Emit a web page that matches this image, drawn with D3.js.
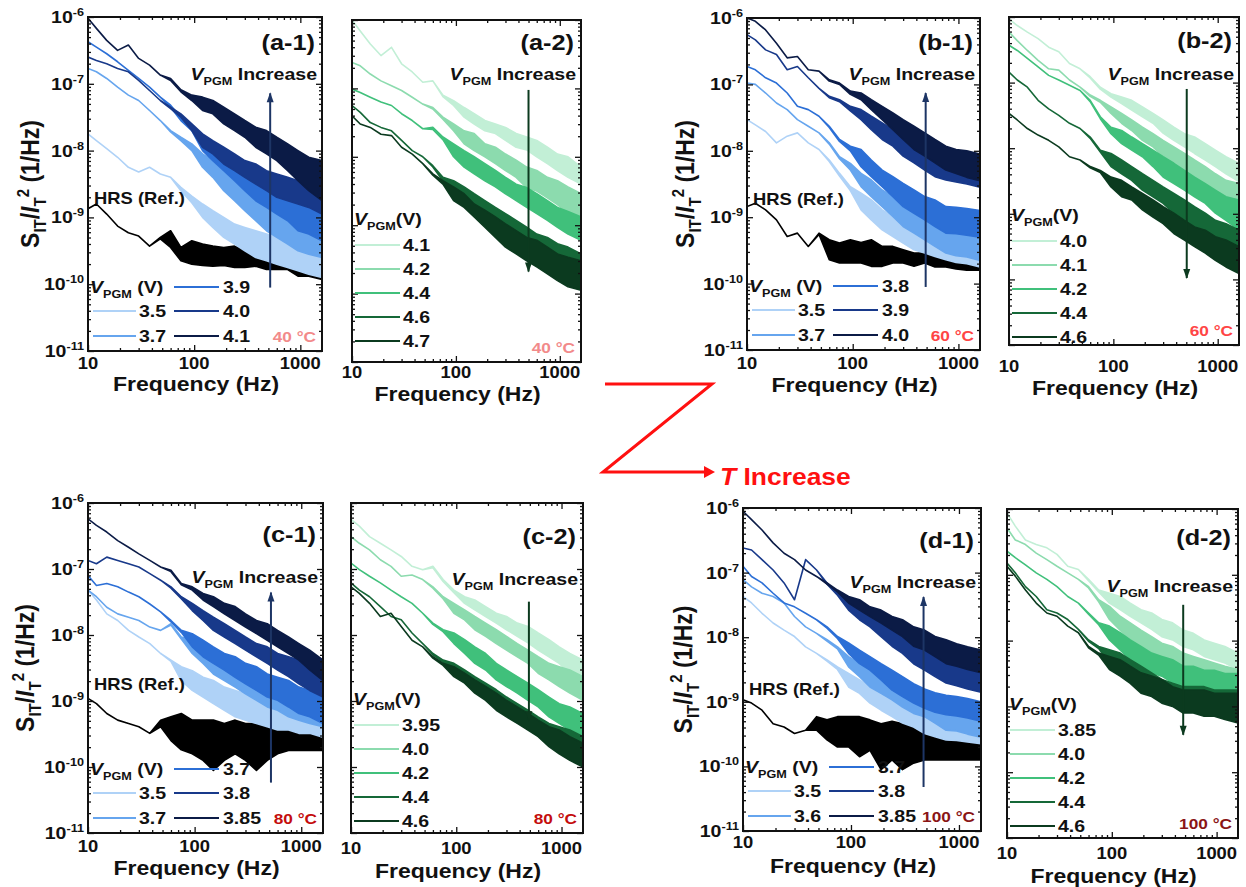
<!DOCTYPE html>
<html>
<head>
<meta charset="utf-8">
<script src="https://cdn.jsdelivr.net/npm/d3@7"></script>
<style>
  body { margin: 0; background: #fff; }
  svg { display: block; }
  text { font-family: "Liberation Sans", Arial, sans-serif; font-weight: bold; fill: #111; }
</style>
</head>
<body>
<svg id="fig" width="1246" height="887"></svg>
<script>
// frequency grid (Hz) shared by every trace
const freqHz = [10, 12, 15, 19, 24, 30, 38, 48, 60, 75, 95, 120, 150, 190, 240, 300, 380, 480, 600, 760, 950, 1200, 1600];

// log10(S_IT/I_T^2): upper and lower edge of each trace (equal where the trace is a thin line)
// rows of the -1 panels: 5 programmed states then HRS (Ref.)
const a1Volt = ['3.5', '3.7', '3.9', '4.0', '4.1'];
const a1Top = [
  [-7.75,-7.85,-7.97,-8.1,-8.25,-8.32,-8.25,-8.35,-8.4,-8.55,-8.68,-8.8,-8.9,-9.0,-9.1,-9.15,-9.2,-9.25,-9.3,-9.35,-9.4,-9.45,-9.5],
  [-6.77,-6.82,-6.92,-7.05,-7.17,-7.25,-7.4,-7.55,-7.7,-7.8,-7.9,-8.05,-8.15,-8.3,-8.45,-8.55,-8.7,-8.8,-8.9,-9.0,-9.05,-9.1,-9.15],
  [-6.37,-6.45,-6.55,-6.67,-6.8,-6.92,-7.05,-7.2,-7.32,-7.5,-7.62,-7.8,-7.9,-8.05,-8.15,-8.25,-8.35,-8.45,-8.55,-8.65,-8.75,-8.8,-8.85],
  [-6.6,-6.65,-6.7,-6.77,-6.82,-6.95,-7.1,-7.25,-7.35,-7.45,-7.6,-7.75,-7.85,-7.95,-8.05,-8.15,-8.2,-8.3,-8.35,-8.4,-8.45,-8.45,-8.5],
  [-6.02,-6.17,-6.35,-6.5,-6.42,-6.62,-6.72,-6.87,-6.92,-7.09,-7.17,-7.2,-7.25,-7.35,-7.45,-7.55,-7.65,-7.7,-7.8,-7.9,-8.0,-8.1,-8.15],
  [-8.87,-8.8,-8.95,-9.13,-9.23,-9.28,-9.43,-9.3,-9.2,-9.45,-9.35,-9.4,-9.43,-9.45,-9.43,-9.5,-9.58,-9.6,-9.63,-9.63,-9.65,-9.68,-9.73]
];
const a1Bot = [
  [-7.75,-7.85,-7.97,-8.1,-8.25,-8.32,-8.25,-8.35,-8.4,-8.6,-8.78,-9.0,-9.15,-9.3,-9.4,-9.5,-9.6,-9.65,-9.7,-9.75,-9.8,-9.85,-9.9],
  [-6.77,-6.82,-6.92,-7.05,-7.17,-7.25,-7.4,-7.55,-7.72,-7.85,-8.0,-8.25,-8.4,-8.6,-8.75,-8.9,-9.05,-9.2,-9.3,-9.4,-9.5,-9.55,-9.6],
  [-6.37,-6.45,-6.55,-6.67,-6.8,-6.92,-7.05,-7.2,-7.35,-7.55,-7.7,-8.0,-8.15,-8.3,-8.45,-8.6,-8.75,-8.85,-8.95,-9.05,-9.2,-9.25,-9.35],
  [-6.6,-6.65,-6.7,-6.77,-6.82,-6.95,-7.1,-7.25,-7.37,-7.5,-7.7,-7.95,-8.05,-8.2,-8.3,-8.4,-8.5,-8.6,-8.7,-8.75,-8.8,-8.85,-8.95],
  [-6.02,-6.17,-6.35,-6.5,-6.42,-6.62,-6.72,-6.87,-6.95,-7.12,-7.25,-7.4,-7.45,-7.6,-7.7,-7.8,-7.95,-8.05,-8.15,-8.3,-8.45,-8.6,-8.75],
  [-8.87,-8.8,-8.95,-9.13,-9.23,-9.28,-9.43,-9.32,-9.45,-9.65,-9.7,-9.72,-9.73,-9.72,-9.75,-9.75,-9.73,-9.78,-9.78,-9.78,-9.88,-9.88,-9.93]
];

const a2Volt = ['4.1', '4.2', '4.4', '4.6', '4.7'];
const a2Top = [
  [-6.0,-6.16,-6.35,-6.52,-6.4,-6.64,-6.76,-6.91,-6.89,-7.1,-7.18,-7.28,-7.37,-7.47,-7.52,-7.57,-7.66,-7.71,-7.76,-7.86,-7.96,-8.0,-8.15],
  [-6.62,-6.67,-6.79,-6.89,-6.96,-7.03,-7.13,-7.23,-7.28,-7.42,-7.52,-7.62,-7.66,-7.81,-7.86,-7.96,-8.05,-8.15,-8.2,-8.3,-8.35,-8.44,-8.54],
  [-7.01,-7.06,-7.13,-7.2,-7.25,-7.37,-7.47,-7.59,-7.57,-7.71,-7.81,-7.91,-8.0,-8.1,-8.2,-8.3,-8.4,-8.45,-8.54,-8.64,-8.74,-8.8,-8.88],
  [-7.25,-7.35,-7.5,-7.57,-7.62,-7.76,-7.91,-8.0,-8.13,-8.3,-8.35,-8.44,-8.54,-8.64,-8.74,-8.83,-8.93,-9.03,-9.13,-9.18,-9.27,-9.32,-9.42],
  [-7.4,-7.52,-7.57,-7.67,-7.69,-7.86,-7.96,-8.1,-8.25,-8.35,-8.44,-8.54,-8.69,-8.78,-8.88,-8.98,-9.08,-9.18,-9.22,-9.32,-9.42,-9.47,-9.52]
];
const a2Bot = [
  [-6.0,-6.16,-6.35,-6.52,-6.4,-6.64,-6.76,-6.91,-6.89,-7.12,-7.25,-7.42,-7.52,-7.62,-7.66,-7.76,-7.86,-7.9,-8.0,-8.1,-8.2,-8.3,-8.4],
  [-6.62,-6.67,-6.79,-6.89,-6.96,-7.03,-7.13,-7.23,-7.3,-7.45,-7.62,-7.81,-7.91,-8.0,-8.1,-8.2,-8.3,-8.45,-8.5,-8.6,-8.7,-8.83,-8.93],
  [-7.01,-7.06,-7.13,-7.2,-7.25,-7.37,-7.47,-7.59,-7.6,-7.75,-8.0,-8.15,-8.25,-8.35,-8.44,-8.54,-8.64,-8.74,-8.83,-8.93,-9.03,-9.13,-9.22],
  [-7.25,-7.35,-7.5,-7.57,-7.62,-7.76,-7.91,-8.0,-8.15,-8.35,-8.54,-8.64,-8.74,-8.93,-9.03,-9.13,-9.22,-9.32,-9.42,-9.57,-9.66,-9.76,-9.86],
  [-7.4,-7.52,-7.57,-7.67,-7.69,-7.86,-7.96,-8.1,-8.27,-8.4,-8.64,-8.74,-8.88,-9.03,-9.18,-9.32,-9.42,-9.52,-9.61,-9.71,-9.81,-9.9,-9.95]
];

const b1Volt = ['3.5', '3.7', '3.8', '3.9', '4.0'];
const b1Top = [
  [-7.53,-7.61,-7.71,-7.88,-7.78,-7.73,-7.88,-7.98,-8.14,-8.34,-8.54,-8.64,-8.74,-8.89,-8.99,-9.09,-9.14,-9.19,-9.24,-9.29,-9.3,-9.32,-9.35],
  [-6.98,-7.0,-7.13,-7.28,-7.38,-7.53,-7.63,-7.73,-7.88,-8.09,-8.19,-8.34,-8.44,-8.59,-8.69,-8.84,-8.94,-9.04,-9.09,-9.19,-9.2,-9.22,-9.25],
  [-6.73,-6.78,-6.9,-6.98,-7.13,-7.33,-7.38,-7.48,-7.63,-7.83,-7.93,-7.98,-8.14,-8.29,-8.39,-8.49,-8.59,-8.69,-8.74,-8.84,-8.85,-8.87,-8.9],
  [-6.25,-6.33,-6.48,-6.55,-6.78,-6.73,-6.9,-7.06,-7.18,-7.23,-7.33,-7.38,-7.48,-7.58,-7.68,-7.78,-7.88,-7.93,-8.03,-8.09,-8.12,-8.15,-8.2],
  [-6.0,-6.05,-6.18,-6.38,-6.6,-6.58,-6.78,-6.8,-6.93,-6.98,-7.1,-7.13,-7.23,-7.33,-7.43,-7.53,-7.63,-7.73,-7.83,-7.93,-7.98,-8.0,-8.05],
  [-8.84,-8.79,-8.89,-9.04,-9.29,-9.24,-9.44,-9.24,-9.34,-9.39,-9.34,-9.38,-9.34,-9.44,-9.44,-9.49,-9.54,-9.54,-9.55,-9.55,-9.55,-9.55,-9.6]
];
const b1Bot = [
  [-7.53,-7.61,-7.71,-7.88,-7.78,-7.73,-7.88,-7.98,-8.16,-8.38,-8.6,-8.89,-9.04,-9.19,-9.29,-9.39,-9.49,-9.54,-9.59,-9.64,-9.68,-9.7,-9.75],
  [-6.98,-7.0,-7.13,-7.28,-7.38,-7.53,-7.63,-7.73,-7.9,-8.12,-8.29,-8.54,-8.69,-8.84,-8.99,-9.14,-9.24,-9.34,-9.44,-9.54,-9.58,-9.6,-9.65],
  [-6.73,-6.78,-6.9,-6.98,-7.13,-7.33,-7.38,-7.48,-7.65,-7.86,-8.0,-8.24,-8.39,-8.54,-8.69,-8.84,-8.94,-9.04,-9.14,-9.24,-9.25,-9.27,-9.3],
  [-6.25,-6.33,-6.48,-6.55,-6.78,-6.73,-6.9,-7.06,-7.2,-7.26,-7.4,-7.53,-7.68,-7.83,-7.93,-8.08,-8.18,-8.29,-8.39,-8.44,-8.47,-8.5,-8.55],
  [-6.0,-6.05,-6.18,-6.38,-6.6,-6.58,-6.78,-6.8,-6.95,-7.0,-7.15,-7.23,-7.38,-7.53,-7.68,-7.83,-7.98,-8.08,-8.18,-8.29,-8.34,-8.4,-8.45],
  [-8.84,-8.79,-8.89,-9.04,-9.29,-9.24,-9.44,-9.26,-9.64,-9.69,-9.69,-9.69,-9.74,-9.74,-9.69,-9.69,-9.74,-9.69,-9.75,-9.75,-9.78,-9.8,-9.8]
];

const b2Volt = ['4.0', '4.1', '4.2', '4.4', '4.6'];
const b2Top = [
  [-6.03,-6.13,-6.23,-6.33,-6.46,-6.53,-6.71,-6.79,-6.91,-7.07,-7.17,-7.22,-7.27,-7.37,-7.47,-7.57,-7.68,-7.78,-7.83,-7.93,-8.03,-8.13,-8.23],
  [-6.23,-6.36,-6.51,-6.66,-6.79,-6.81,-6.96,-7.07,-7.19,-7.27,-7.37,-7.47,-7.57,-7.68,-7.78,-7.88,-7.98,-8.08,-8.18,-8.28,-8.39,-8.49,-8.54],
  [-6.43,-6.51,-6.63,-6.76,-6.89,-6.96,-7.04,-7.12,-7.27,-7.52,-7.68,-7.73,-7.83,-7.93,-8.03,-8.13,-8.23,-8.34,-8.44,-8.54,-8.64,-8.74,-8.79],
  [-6.84,-6.96,-7.07,-7.27,-7.4,-7.5,-7.62,-7.7,-7.83,-8.03,-8.08,-8.18,-8.28,-8.39,-8.49,-8.59,-8.69,-8.79,-8.89,-8.99,-9.1,-9.15,-9.25],
  [-7.47,-7.57,-7.7,-7.8,-7.88,-7.98,-8.13,-8.18,-8.28,-8.34,-8.44,-8.49,-8.59,-8.69,-8.79,-8.89,-8.99,-9.1,-9.2,-9.25,-9.35,-9.4,-9.5]
];
const b2Bot = [
  [-6.03,-6.13,-6.23,-6.33,-6.46,-6.53,-6.71,-6.79,-6.93,-7.1,-7.22,-7.32,-7.42,-7.52,-7.62,-7.77,-7.88,-7.98,-8.08,-8.18,-8.28,-8.39,-8.51],
  [-6.23,-6.36,-6.51,-6.66,-6.79,-6.81,-6.96,-7.07,-7.21,-7.3,-7.47,-7.62,-7.73,-7.88,-7.98,-8.13,-8.23,-8.34,-8.44,-8.59,-8.69,-8.79,-8.89],
  [-6.43,-6.51,-6.63,-6.76,-6.89,-6.96,-7.04,-7.12,-7.29,-7.55,-7.78,-7.93,-8.03,-8.13,-8.28,-8.44,-8.54,-8.64,-8.74,-8.84,-8.99,-9.1,-9.25],
  [-6.84,-6.96,-7.07,-7.27,-7.4,-7.5,-7.62,-7.7,-7.85,-8.06,-8.28,-8.39,-8.49,-8.64,-8.74,-8.84,-8.99,-9.1,-9.25,-9.35,-9.45,-9.6,-9.76],
  [-7.47,-7.57,-7.7,-7.8,-7.88,-7.98,-8.13,-8.18,-8.3,-8.37,-8.59,-8.74,-8.79,-8.94,-9.05,-9.15,-9.3,-9.4,-9.5,-9.6,-9.71,-9.81,-9.91]
];

const c1Volt = ['3.5', '3.7', '3.7', '3.8', '3.85'];
const c1Top = [
  [-7.32,-7.47,-7.68,-7.78,-7.93,-8.03,-8.13,-8.28,-8.38,-8.48,-8.54,-8.64,-8.69,-8.79,-8.84,-8.89,-8.94,-8.99,-9.04,-9.09,-9.09,-9.14,-9.19],
  [-7.32,-7.42,-7.58,-7.68,-7.73,-7.78,-7.88,-7.93,-7.83,-8.03,-8.08,-8.18,-8.28,-8.38,-8.48,-8.59,-8.64,-8.69,-8.79,-8.84,-8.89,-8.94,-8.99],
  [-7.1,-7.25,-7.22,-7.27,-7.35,-7.42,-7.53,-7.65,-7.78,-7.93,-7.98,-8.08,-8.18,-8.28,-8.33,-8.43,-8.48,-8.59,-8.64,-8.69,-8.79,-8.84,-8.89],
  [-6.87,-6.92,-6.82,-6.87,-6.92,-6.97,-7.07,-7.17,-7.27,-7.42,-7.52,-7.63,-7.73,-7.83,-7.93,-8.03,-8.13,-8.18,-8.28,-8.33,-8.38,-8.48,-8.59],
  [-6.24,-6.34,-6.44,-6.57,-6.67,-6.77,-6.87,-6.97,-7.02,-7.22,-7.27,-7.37,-7.42,-7.52,-7.57,-7.68,-7.78,-7.83,-7.93,-8.03,-8.13,-8.23,-8.38],
  [-8.96,-9.04,-9.19,-9.29,-9.34,-9.39,-9.49,-9.29,-9.24,-9.19,-9.29,-9.29,-9.29,-9.34,-9.29,-9.34,-9.34,-9.39,-9.34,-9.39,-9.39,-9.44,-9.44]
];
const c1Bot = [
  [-7.32,-7.47,-7.68,-7.78,-7.93,-8.03,-8.13,-8.28,-8.4,-8.69,-8.84,-8.94,-9.04,-9.14,-9.24,-9.29,-9.34,-9.39,-9.44,-9.44,-9.49,-9.49,-9.55],
  [-7.32,-7.42,-7.58,-7.68,-7.73,-7.78,-7.88,-7.93,-7.85,-8.06,-8.28,-8.43,-8.59,-8.69,-8.79,-8.89,-8.99,-9.09,-9.14,-9.24,-9.29,-9.34,-9.39],
  [-7.1,-7.25,-7.22,-7.27,-7.35,-7.42,-7.53,-7.65,-7.8,-7.96,-8.18,-8.33,-8.43,-8.53,-8.64,-8.74,-8.84,-8.94,-8.99,-9.09,-9.19,-9.24,-9.34],
  [-6.87,-6.92,-6.82,-6.87,-6.92,-6.97,-7.07,-7.17,-7.29,-7.45,-7.63,-7.78,-7.93,-8.03,-8.13,-8.23,-8.33,-8.43,-8.53,-8.63,-8.74,-8.84,-8.94],
  [-6.24,-6.34,-6.44,-6.57,-6.67,-6.77,-6.87,-6.97,-7.04,-7.24,-7.32,-7.47,-7.57,-7.68,-7.78,-7.88,-7.98,-8.08,-8.18,-8.28,-8.38,-8.53,-8.69],
  [-8.96,-9.04,-9.19,-9.29,-9.34,-9.39,-9.49,-9.39,-9.6,-9.74,-9.8,-9.9,-10.05,-9.9,-9.8,-9.9,-10.05,-9.9,-9.8,-9.75,-9.75,-9.75,-9.75]
];

const c2Volt = ['3.95', '4.0', '4.2', '4.4', '4.6'];
const c2Top = [
  [-6.25,-6.35,-6.51,-6.61,-6.71,-6.81,-6.96,-7.01,-6.96,-7.16,-7.32,-7.42,-7.47,-7.57,-7.67,-7.72,-7.82,-7.87,-7.97,-8.07,-8.18,-8.28,-8.38],
  [-6.51,-6.61,-6.71,-6.86,-6.96,-7.11,-7.09,-7.16,-7.27,-7.42,-7.52,-7.62,-7.72,-7.82,-7.92,-8.02,-8.13,-8.23,-8.33,-8.43,-8.48,-8.53,-8.63],
  [-6.91,-7.01,-7.11,-7.21,-7.32,-7.42,-7.52,-7.67,-7.82,-7.92,-7.97,-8.07,-8.18,-8.28,-8.43,-8.53,-8.63,-8.73,-8.83,-8.94,-9.04,-9.09,-9.19],
  [-7.21,-7.32,-7.42,-7.57,-7.72,-7.77,-7.97,-8.13,-8.28,-8.38,-8.43,-8.53,-8.63,-8.73,-8.83,-8.94,-9.04,-9.14,-9.24,-9.34,-9.39,-9.44,-9.54],
  [-7.27,-7.37,-7.52,-7.72,-7.67,-7.87,-8.08,-8.18,-8.33,-8.43,-8.48,-8.58,-8.68,-8.78,-8.88,-8.99,-9.09,-9.19,-9.29,-9.39,-9.44,-9.54,-9.64]
];
const c2Bot = [
  [-6.25,-6.35,-6.51,-6.61,-6.71,-6.81,-6.96,-7.01,-6.98,-7.19,-7.36,-7.52,-7.62,-7.72,-7.82,-7.92,-8.02,-8.12,-8.23,-8.33,-8.43,-8.58,-8.68],
  [-6.51,-6.61,-6.71,-6.86,-6.96,-7.11,-7.09,-7.16,-7.29,-7.45,-7.67,-7.77,-7.92,-8.02,-8.13,-8.23,-8.33,-8.43,-8.58,-8.68,-8.78,-8.88,-8.99],
  [-6.91,-7.01,-7.11,-7.21,-7.32,-7.42,-7.52,-7.67,-7.84,-7.95,-8.13,-8.28,-8.43,-8.53,-8.68,-8.78,-8.88,-8.99,-9.09,-9.24,-9.34,-9.44,-9.54],
  [-7.21,-7.32,-7.42,-7.57,-7.72,-7.77,-7.97,-8.13,-8.3,-8.41,-8.58,-8.68,-8.83,-8.94,-9.09,-9.19,-9.29,-9.39,-9.49,-9.59,-9.69,-9.8,-9.95],
  [-7.27,-7.37,-7.52,-7.72,-7.67,-7.87,-8.08,-8.18,-8.35,-8.46,-8.63,-8.73,-8.88,-8.99,-9.14,-9.24,-9.34,-9.44,-9.54,-9.69,-9.8,-9.9,-10.0]
];

const d1Volt = ['3.5', '3.6', '3.7', '3.8', '3.85'];
const d1Top = [
  [-7.37,-7.47,-7.63,-7.78,-7.89,-7.99,-8.15,-8.25,-8.35,-8.46,-8.56,-8.66,-8.77,-8.87,-8.97,-9.02,-9.08,-9.13,-9.18,-9.23,-9.25,-9.27,-9.3],
  [-7.11,-7.22,-7.32,-7.37,-7.47,-7.68,-7.84,-7.94,-8.04,-8.15,-8.3,-8.41,-8.51,-8.61,-8.72,-8.77,-8.87,-8.92,-8.97,-9.08,-9.1,-9.12,-9.15],
  [-6.9,-7.06,-7.16,-7.32,-7.47,-7.53,-7.63,-7.73,-7.84,-7.99,-8.09,-8.2,-8.3,-8.41,-8.51,-8.61,-8.72,-8.8,-8.86,-8.9,-8.92,-8.95,-9.0],
  [-6.62,-6.65,-6.8,-6.96,-7.16,-7.42,-6.8,-6.96,-7.16,-7.32,-7.42,-7.53,-7.63,-7.73,-7.84,-7.94,-8.04,-8.15,-8.25,-8.35,-8.4,-8.45,-8.5],
  [-6.05,-6.18,-6.34,-6.54,-6.7,-6.8,-6.96,-7.06,-7.16,-7.27,-7.37,-7.42,-7.53,-7.58,-7.68,-7.73,-7.84,-7.89,-7.99,-8.04,-8.1,-8.15,-8.2],
  [-8.97,-9.02,-9.13,-9.34,-9.39,-9.49,-9.44,-9.23,-9.28,-9.23,-9.23,-9.23,-9.28,-9.34,-9.3,-9.34,-9.39,-9.4,-9.44,-9.49,-9.55,-9.6,-9.6]
];
const d1Bot = [
  [-7.37,-7.47,-7.63,-7.78,-7.89,-7.99,-8.15,-8.25,-8.37,-8.5,-8.77,-8.87,-9.02,-9.13,-9.23,-9.33,-9.39,-9.49,-9.54,-9.59,-9.6,-9.62,-9.65],
  [-7.11,-7.22,-7.32,-7.37,-7.47,-7.68,-7.84,-7.94,-8.06,-8.18,-8.46,-8.61,-8.77,-8.87,-8.97,-9.08,-9.18,-9.23,-9.33,-9.44,-9.45,-9.5,-9.55],
  [-6.9,-7.06,-7.16,-7.32,-7.47,-7.53,-7.63,-7.73,-7.86,-8.02,-8.25,-8.41,-8.51,-8.66,-8.82,-8.92,-9.02,-9.1,-9.16,-9.2,-9.22,-9.25,-9.3],
  [-6.62,-6.65,-6.8,-6.96,-7.16,-7.42,-6.8,-6.96,-7.18,-7.35,-7.58,-7.73,-7.84,-7.99,-8.14,-8.25,-8.41,-8.51,-8.61,-8.71,-8.75,-8.8,-8.85],
  [-6.05,-6.18,-6.34,-6.54,-6.7,-6.8,-6.96,-7.06,-7.18,-7.3,-7.47,-7.58,-7.68,-7.78,-7.89,-7.99,-8.14,-8.2,-8.3,-8.41,-8.45,-8.5,-8.55],
  [-8.97,-9.02,-9.13,-9.34,-9.39,-9.49,-9.44,-9.44,-9.59,-9.7,-9.7,-9.85,-9.75,-10.05,-9.9,-10.05,-9.95,-9.9,-9.9,-9.9,-9.9,-9.9,-9.9]
];

const d2Volt = ['3.85', '4.0', '4.2', '4.4', '4.6'];
const d2Top = [
  [-6.06,-6.26,-6.47,-6.54,-6.59,-6.69,-6.87,-6.92,-7.07,-7.23,-7.28,-7.33,-7.43,-7.53,-7.58,-7.68,-7.73,-7.84,-7.89,-7.99,-8.04,-8.09,-8.19],
  [-6.29,-6.47,-6.54,-6.67,-6.77,-6.87,-6.97,-7.07,-7.18,-7.38,-7.48,-7.63,-7.73,-7.84,-7.94,-8.04,-8.09,-8.19,-8.24,-8.29,-8.34,-8.39,-8.44],
  [-6.64,-6.74,-6.85,-6.97,-7.07,-7.18,-7.33,-7.43,-7.58,-7.73,-7.78,-7.88,-7.99,-8.09,-8.19,-8.24,-8.29,-8.39,-8.39,-8.45,-8.45,-8.5,-8.5],
  [-6.82,-6.97,-7.18,-7.33,-7.53,-7.58,-7.68,-7.83,-7.99,-8.09,-8.14,-8.19,-8.29,-8.39,-8.49,-8.59,-8.65,-8.7,-8.7,-8.7,-8.75,-8.75,-8.75],
  [-6.87,-7.02,-7.23,-7.43,-7.58,-7.63,-7.78,-7.88,-8.09,-8.19,-8.24,-8.29,-8.39,-8.49,-8.54,-8.59,-8.7,-8.75,-8.75,-8.75,-8.8,-8.8,-8.8]
];
const d2Bot = [
  [-6.06,-6.26,-6.47,-6.54,-6.59,-6.69,-6.87,-6.92,-7.09,-7.26,-7.43,-7.53,-7.63,-7.73,-7.83,-7.94,-7.99,-8.09,-8.14,-8.24,-8.29,-8.34,-8.44],
  [-6.29,-6.47,-6.54,-6.67,-6.77,-6.87,-6.97,-7.07,-7.2,-7.41,-7.68,-7.84,-7.99,-8.09,-8.19,-8.29,-8.34,-8.44,-8.49,-8.54,-8.59,-8.64,-8.7],
  [-6.64,-6.74,-6.85,-6.97,-7.07,-7.18,-7.33,-7.43,-7.6,-7.76,-7.99,-8.14,-8.29,-8.39,-8.49,-8.54,-8.64,-8.7,-8.75,-8.75,-8.8,-8.8,-8.85],
  [-6.82,-6.97,-7.18,-7.33,-7.53,-7.58,-7.68,-7.83,-8.01,-8.12,-8.34,-8.44,-8.54,-8.7,-8.8,-8.9,-8.95,-9.0,-9.05,-9.1,-9.1,-9.15,-9.15],
  [-6.87,-7.02,-7.23,-7.43,-7.58,-7.63,-7.78,-7.88,-8.11,-8.22,-8.44,-8.54,-8.65,-8.8,-8.85,-8.95,-9.0,-9.1,-9.1,-9.15,-9.15,-9.2,-9.25]
];

// axis ticks
const xMajor = [10, 100, 1000];
const xTickLabels = ['10', '100', '1000'];
const yMajor = [1e-6, 1e-7, 1e-8, 1e-9, 1e-10, 1e-11];
const yTickPowers = ['-6', '-7', '-8', '-9', '-10', '-11'];
const temps = ['40 \u00B0C', '60 \u00B0C', '80 \u00B0C', '100 \u00B0C'];

const blues = ['#afd2f7', '#66a5ee', '#2c6fd6', '#18398a', '#0b1b46', '#000000'];
const greens = ['#c2efd6', '#8cdbae', '#40c07b', '#156838', '#0b3a1f'];
const tempColors = ['#f28a8a', '#ff4545', '#c40d0d', '#8a1515'];

const SX = 1.15; // the original figure is slightly stretched horizontally
const svg = d3.select('#fig');

function stext(g, x, y, size, anchor) {
    return g.append('text')
        .attr('transform', `translate(${x},${y}) scale(${SX},1)`)
        .attr('text-anchor', anchor || 'start')
        .style('font-size', size + 'px');
}
function rich(t, parts) {
    parts.forEach(p => {
        const s = t.append('tspan').text(p.t);
        if (p.s) s.style('font-size', p.s + 'px');
        if (p.dy) s.attr('dy', p.dy);
        if (p.i) s.style('font-style', 'italic');
    });
    return t;
}
const vpgm = (size, tail) => [{t: 'V', i: 1}, {t: 'PGM', s: Math.round(size * 0.65), dy: 5}, {t: tail, dy: -5}];

const panels = [
    {box: [88, 322, 17, 351], kind: 1, volt: a1Volt, top: a1Top, bot: a1Bot, tag: '(a-1)', temp: 0, tagDy: 33, incDy: 63, tickY: 369, freqY: 391, titleX: 30, arrow: [520, 8.9e-11, 7.2e-8]},
    {box: [352, 581, 20, 362], kind: 2, volt: a2Volt, top: a2Top, bot: a2Bot, tag: '(a-2)', temp: 0, tagDy: 30, incDy: 60, tickY: 378, freqY: 401, legShift: -9, arrow: [500, 2.1e-10, 9.5e-8]},
    {box: [747, 980, 18, 350], kind: 1, volt: b1Volt, top: b1Top, bot: b1Bot, tag: '(b-1)', temp: 1, tagDy: 32, incDy: 62, tickY: 369, freqY: 392, titleX: 685, arrow: [490, 8.9e-11, 7.4e-8]},
    {box: [1009, 1239, 17, 345], kind: 2, volt: b2Volt, top: b2Top, bot: b2Bot, tag: '(b-2)', temp: 1, tagDy: 31, incDy: 63, tickY: 372, freqY: 395, legShift: 4, arrow: [505, 1.05e-10, 8e-8]},
    {box: [88, 323, 503, 833], kind: 1, volt: c1Volt, top: c1Top, bot: c1Bot, tag: '(c-1)', temp: 2, tagDy: 39, incDy: 80, tickY: 852, freqY: 875, titleX: 25, arrow: [520, 5.8e-11, 4.4e-8]},
    {box: [351, 583, 503, 833], kind: 2, volt: c2Volt, top: c2Top, bot: c2Bot, tag: '(c-2)', temp: 2, tagDy: 41, incDy: 82, tickY: 854, freqY: 878, legShift: 0, arrow: [490, 5.1e-10, 3.2e-8]},
    {box: [743, 981, 508, 831], kind: 1, volt: d1Volt, top: d1Top, bot: d1Bot, tag: '(d-1)', temp: 3, tagDy: 40, incDy: 80, tickY: 848, freqY: 873, titleX: 683, arrow: [470, 4.8e-11, 4.2e-8]},
    {box: [1007, 1238, 509, 838], kind: 2, volt: d2Volt, top: d2Top, bot: d2Bot, tag: '(d-2)', temp: 3, tagDy: 36, incDy: 83, tickY: 859, freqY: 883, legShift: 0, arrow: [480, 3.7e-10, 3.5e-8]}
];

panels.forEach((p, pi) => {
    const [x0, x1, y0, y1] = p.box;
    const x = d3.scaleLog().domain([10, 1600]).range([x0, x1]);
    const y = d3.scaleLog().domain([1e-11, 1e-6]).range([y1, y0]);
    const g = svg.append('g');
    const colors = p.kind === 1 ? blues : greens;

    const clipId = 'clip' + pi;
    g.append('clipPath').attr('id', clipId)
        .append('rect').attr('x', x0).attr('y', y0).attr('width', x1 - x0).attr('height', y1 - y0);

    // traces
    const area = d3.area().x(d => x(d.f)).y0(d => y(d.b)).y1(d => y(d.t));
    const order = p.top.length === 6 ? [5, 0, 1, 2, 3, 4] : [0, 1, 2, 3, 4];
    const plot = g.append('g').attr('clip-path', `url(#${clipId})`);
    order.forEach(k => {
        const pts = freqHz.map((f, i) => ({f, t: Math.pow(10, p.top[k][i]), b: Math.pow(10, p.bot[k][i])}));
        plot.append('path')
            .attr('d', area(pts))
            .attr('fill', colors[k])
            .attr('stroke', colors[k])
            .attr('stroke-width', 1.6)
            .attr('stroke-linejoin', 'round');
    });

    // ticks on all four sides, pointing in
    const xMinor = d3.range(2, 10).map(m => m * 10).concat(d3.range(2, 10).map(m => m * 100));
    const yMinor = [];
    [-11, -10, -9, -8, -7].forEach(e => d3.range(2, 10).forEach(m => yMinor.push(m * Math.pow(10, e))));
    const axes = [
        [d3.axisBottom(x), `translate(0,${y1})`, xMajor, xMinor],
        [d3.axisTop(x), `translate(0,${y0})`, xMajor, xMinor],
        [d3.axisLeft(y), `translate(${x0},0)`, yMajor, yMinor],
        [d3.axisRight(y), `translate(${x1},0)`, yMajor, yMinor]
    ];
    axes.forEach(([ax, tr, major, minor]) => {
        [[major, -6], [minor, -3]].forEach(([vals, len]) => {
            const a = g.append('g').attr('transform', tr)
                .call(ax.tickValues(vals).tickSize(len).tickFormat(''));
            a.select('.domain').remove();
            a.selectAll('line').attr('stroke', '#111').attr('stroke-width', 1.3);
        });
    });
    g.append('rect').attr('x', x0).attr('y', y0).attr('width', x1 - x0).attr('height', y1 - y0)
        .attr('fill', 'none').attr('stroke', '#111').attr('stroke-width', 2);

    // x tick labels and title
    xMajor.forEach((v, i) => stext(g, x(v), p.tickY, 16, 'middle').text(xTickLabels[i]));
    stext(g, (x0 + x1) / 2 - 9, p.freqY, 20, 'middle').text('Frequency (Hz)');

    if (p.kind === 1) {
        yMajor.forEach((v, i) => {
            const t = stext(g, x0 - 4, y(v) + 6, 17, 'end');
            rich(t, [{t: '10'}, {t: yTickPowers[i], s: 11, dy: -7}]);
        });
        const yt = g.append('text')
            .attr('transform', `translate(${p.titleX},${(y0 + y1) / 2}) rotate(-90) scale(1,${SX})`)
            .attr('text-anchor', 'middle').attr('dy', '0.35em')
            .style('font-size', '23px');
        rich(yt, [{t: 'S'}, {t: 'IT', s: 15, dy: 6}, {t: '/', dy: -6}, {t: 'I', i: 1},
                  {t: 'T', s: 15, dy: 6}, {t: '2', s: 15, dy: -15}, {t: ' (1/Hz)', dy: 9}]);
        stext(g, x0 + 6, y0 + 187, 16, 'start').text('HRS (Ref.)');
    }

    // panel tag and V_PGM increase label
    stext(g, x1 - 7, y0 + p.tagDy, 22, 'end').text(p.tag);
    rich(stext(g, x1 - 5, y0 + p.incDy, 17, 'end'), vpgm(17, ' Increase'));

    // V_PGM increase arrow
    const [af, aLo, aHi] = p.arrow;
    const ax = x(af), ya = y(aLo), yb = y(aHi);
    const acol = p.kind === 1 ? '#1d3565' : '#0c3a1f';
    g.append('line').attr('x1', ax).attr('x2', ax).attr('y1', ya).attr('y2', yb)
        .attr('stroke', acol).attr('stroke-width', 2);
    const head = p.kind === 1
        ? `M${ax - 3.5},${yb + 9}L${ax},${yb - 1}L${ax + 3.5},${yb + 9}Z`
        : `M${ax - 3.5},${ya - 9}L${ax},${ya + 1}L${ax + 3.5},${ya - 9}Z`;
    g.append('path').attr('d', head).attr('fill', acol);

    // legend
    const leg = g.append('g');
    if (p.kind === 1) {
        rich(stext(leg, x0 + 2, y1 - 58, 17, 'start'), vpgm(17, ' (V)'));
        const slots = [[0, 1], [0, 2], [1, 0], [1, 1], [1, 2]];
        const rowsY = [-64, -40, -15];
        const cols = [[5, 48, 51], [86, 131, 135]];
        slots.forEach(([c, r], k) => {
            const ly = y1 + rowsY[r];
            leg.append('line').attr('x1', x0 + cols[c][0]).attr('x2', x0 + cols[c][1])
                .attr('y1', ly).attr('y2', ly).attr('stroke', colors[k]).attr('stroke-width', 2);
            stext(leg, x0 + cols[c][2], ly + 6, 17, 'start').text(p.volt[k]);
        });
    } else {
        const sh = p.legShift;
        rich(stext(leg, x0 + 2, y1 - 128 + sh, 17, 'start'), vpgm(17, '(V)'));
        const rowsY = [-108, -84, -60, -36, -12];
        p.volt.forEach((v, k) => {
            const ly = y1 + rowsY[k] + sh;
            leg.append('line').attr('x1', x0 + 3).attr('x2', x0 + 48)
                .attr('y1', ly).attr('y2', ly).attr('stroke', colors[k]).attr('stroke-width', 2);
            stext(leg, x0 + 51, ly + 6, 17, 'start').text(v);
        });
    }

    // temperature
    stext(g, x1 - 6, y1 - 9, 15, 'end').text(temps[p.temp]).style('fill', tempColors[p.temp]);
});

// Z-shaped temperature arrow between the rows
const red = '#ff1010';
svg.append('path').attr('d', 'M605,384H712L603,472H706')
    .attr('fill', 'none').attr('stroke', red).attr('stroke-width', 3).attr('stroke-linejoin', 'miter');
svg.append('path').attr('d', 'M704,466L715,472L704,478Z').attr('fill', red);
rich(stext(svg, 720, 485, 23, 'start').style('fill', red), [{t: 'T', i: 1}, {t: ' Increase'}]);
</script>
</body>
</html>
